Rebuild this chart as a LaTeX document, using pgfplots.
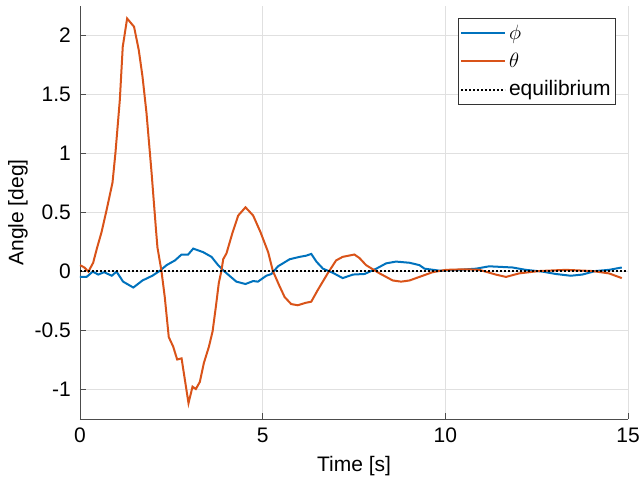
\documentclass[border=0pt]{standalone}
\usepackage{pgfplots}
\pgfplotsset{compat=1.18}
\usepackage{fontspec}
\setmainfont{Liberation Sans}

\definecolor{mblue}{HTML}{0072BD}
\definecolor{morange}{HTML}{D95319}

\begin{document}
\begin{tikzpicture}
\fontsize{21}{25}\selectfont
\begin{axis}[
  width=548pt, height=413pt, scale only axis,
  xmin=0, xmax=15, ymin=-1.254, ymax=2.246,
  xtick={0,5,10,15}, ytick={-1,-0.5,0,0.5,1,1.5,2},
  axis x line*=bottom, axis y line*=left,
  axis line style={-, black!70, line width=0.8pt},
  tick align=inside, major tick length=6pt,
  tick style={black!70, line width=0.8pt},
  grid=major, grid style={black!12, line width=0.8pt},
  /pgf/number format/assume math mode=true,
  ticklabel style={font=\fontsize{21}{25}\selectfont},
  xticklabel style={yshift=-2pt},
  yticklabel style={xshift=-2pt},
  xlabel={Time [s]}, ylabel={Angle [deg]},
  xlabel style={at={(axis description cs:0.5,-0.1138)}, anchor=center, font=\fontsize{21}{25}\selectfont},
  ylabel style={at={(axis description cs:-0.1131,0.5)}, anchor=center, font=\fontsize{21}{25}\selectfont},
  legend style={at={(axis description cs:0.978,0.971)}, anchor=north east,
    draw=black!80, line width=0.8pt, font=\fontsize{21}{25}\selectfont,
    inner xsep=2pt, inner ysep=1pt, row sep=0pt,
    nodes={inner sep=3pt, text depth=0.25em, text height=0.8em}},
  legend cell align=left,
  legend image code/.code={\draw[#1] (0pt,0pt) -- (44pt,0pt);},
]
\addplot[mblue, line width=2pt] coordinates {
(0,-0.05) (0.18,-0.05) (0.35,-0.005) (0.5,-0.03) (0.66,-0.01) (0.87,-0.04)
(1.0,-0.005) (1.18,-0.09) (1.46,-0.14) (1.71,-0.08) (1.98,-0.04) (2.19,0.003)
(2.37,0.05) (2.6,0.09) (2.78,0.14) (2.96,0.14) (3.1,0.19) (3.37,0.16)
(3.6,0.12) (3.78,0.05) (3.96,-0.005) (4.28,-0.09) (4.53,-0.11) (4.74,-0.085)
(4.87,-0.09) (5.1,-0.04) (5.24,-0.025) (5.42,0.04) (5.74,0.10) (6.01,0.12)
(6.19,0.13) (6.33,0.145) (6.47,0.08) (6.65,0.02) (6.92,-0.015) (7.19,-0.06)
(7.47,-0.03) (7.79,-0.025) (8.11,0.02) (8.38,0.065) (8.65,0.08) (9.02,0.07)
(9.29,0.05) (9.43,0.02) (9.84,0.003) (10.38,0.01) (10.84,0.02) (11.2,0.04)
(11.84,0.03) (12.2,0.01) (12.66,-0.005) (13.02,-0.025) (13.43,-0.04) (13.75,-0.03)
(14.11,0) (14.48,0.01) (14.83,0.03)
};
\addlegendentry{$\phi$}
\addplot[morange, line width=2pt] coordinates {
(0,0.05) (0.12,0.03) (0.23,-0.005) (0.36,0.07) (0.47,0.2) (0.59,0.33)
(0.73,0.52) (0.89,0.75) (0.97,1.0) (1.09,1.45) (1.17,1.9) (1.29,2.14)
(1.48,2.07) (1.61,1.87) (1.71,1.65) (1.82,1.34) (1.96,0.83) (2.08,0.35)
(2.12,0.2) (2.23,0) (2.32,-0.22) (2.43,-0.56) (2.55,-0.64) (2.66,-0.75)
(2.78,-0.74) (2.87,-0.92) (2.97,-1.12) (3.08,-0.98) (3.17,-1.0) (3.28,-0.94)
(3.39,-0.78) (3.53,-0.64) (3.63,-0.51) (3.72,-0.30) (3.80,-0.10) (3.87,0)
(3.92,0.10) (4.01,0.15) (4.17,0.32) (4.33,0.47) (4.53,0.54) (4.74,0.47)
(4.94,0.33) (5.15,0.16) (5.28,0) (5.45,-0.12) (5.6,-0.22) (5.78,-0.28)
(5.96,-0.29) (6.17,-0.27) (6.33,-0.26) (6.51,-0.16) (6.78,-0.02) (7.01,0.09)
(7.19,0.12) (7.51,0.14) (7.65,0.11) (7.83,0.05) (8.2,-0.02) (8.56,-0.08)
(8.79,-0.09) (9.02,-0.08) (9.29,-0.05) (9.65,-0.01) (10.02,0.01) (10.56,0.015)
(10.93,0.01) (11.38,-0.03) (11.66,-0.05) (12.02,-0.02) (12.57,0) (13.3,0.01)
(14.02,0) (14.48,-0.02) (14.83,-0.06)
};
\addlegendentry{$\theta$}
\addplot[black, line width=2pt, dotted] coordinates {(0,0) (15,0)};
\addlegendentry{equilibrium}
\end{axis}
\pgfresetboundingbox
\path (current axis.south west) ++(-80pt,-62pt) rectangle ([shift={(14pt,6pt)}]current axis.north east);
\end{tikzpicture}
\end{document}
